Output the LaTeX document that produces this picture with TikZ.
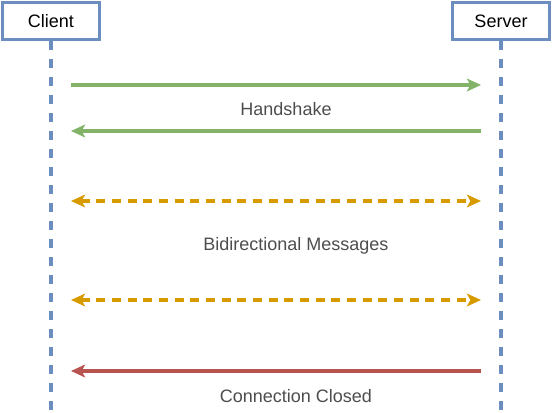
\documentclass[tikz,border=0pt]{standalone}
\usepackage{fontspec}
\setmainfont{Liberation Sans}
\usetikzlibrary{arrows.meta}
\definecolor{lifeblue}{HTML}{6C8EBF}
\definecolor{hsgreen}{HTML}{82B366}
\definecolor{bigold}{HTML}{D79B00}
\definecolor{clred}{HTML}{B85450}
\definecolor{labgrey}{HTML}{4D4D4D}
\tikzset{
  actor/.style={draw=lifeblue, line width=2.6pt, fill=white, minimum width=72.5pt, minimum height=28pt, inner sep=0pt, font=\fontsize{13.5}{15}\selectfont, text=black},
  lifeline/.style={draw=lifeblue, line width=2.6pt, dash pattern=on 6.75pt off 6.75pt},
  msg/.style={line width=2.6pt, -{Stealth[length=10.5pt, width=9.5pt, inset=2.5pt]}},
  bimsg/.style={line width=2.6pt, draw=bigold, dash pattern=on 6.75pt off 5pt, {Stealth[length=10.5pt, width=9.5pt, inset=2.5pt]}-{Stealth[length=10.5pt, width=9.5pt, inset=2.5pt]}},
  lab/.style={text=labgrey, font=\fontsize{13.5}{15}\selectfont, inner sep=0pt}
}
\begin{document}
\begin{tikzpicture}[x=0.75pt, y=-0.75pt]
\useasboundingbox (0,0) rectangle (553,413);
\coordinate (cb) at (51,413);
\coordinate (sb) at (501,413);
\node[actor] (client) at (51,21) {Client};
\node[actor] (server) at (501,21) {Server};
\draw[lifeline] (client.south) -- (cb);
\draw[lifeline] (server.south) -- (sb);
\coordinate (c1) at (71,85);  \coordinate (s1) at (481,85);
\coordinate (c2) at (71,131); \coordinate (s2) at (481,131);
\coordinate (c3) at (71,201); \coordinate (s3) at (481,201);
\coordinate (c4) at (71,300); \coordinate (s4) at (481,300);
\coordinate (c5) at (71,371); \coordinate (s5) at (481,371);
\draw[msg, draw=hsgreen, color=hsgreen] (c1) -- (s1);
\draw[msg, draw=hsgreen, color=hsgreen] (s2) -- (c2);
\node[lab] (hs) at (286,109) {Handshake};
\draw[bimsg, color=bigold] (c3) -- (s3);
\node[lab] (bm) at (296,246) {Bidirectional Messages};
\draw[bimsg, color=bigold] (c4) -- (s4);
\draw[msg, draw=clred, color=clred] (s5) -- (c5);
\node[lab] (cc) at (296,396) {Connection Closed};
\end{tikzpicture}
\end{document}
